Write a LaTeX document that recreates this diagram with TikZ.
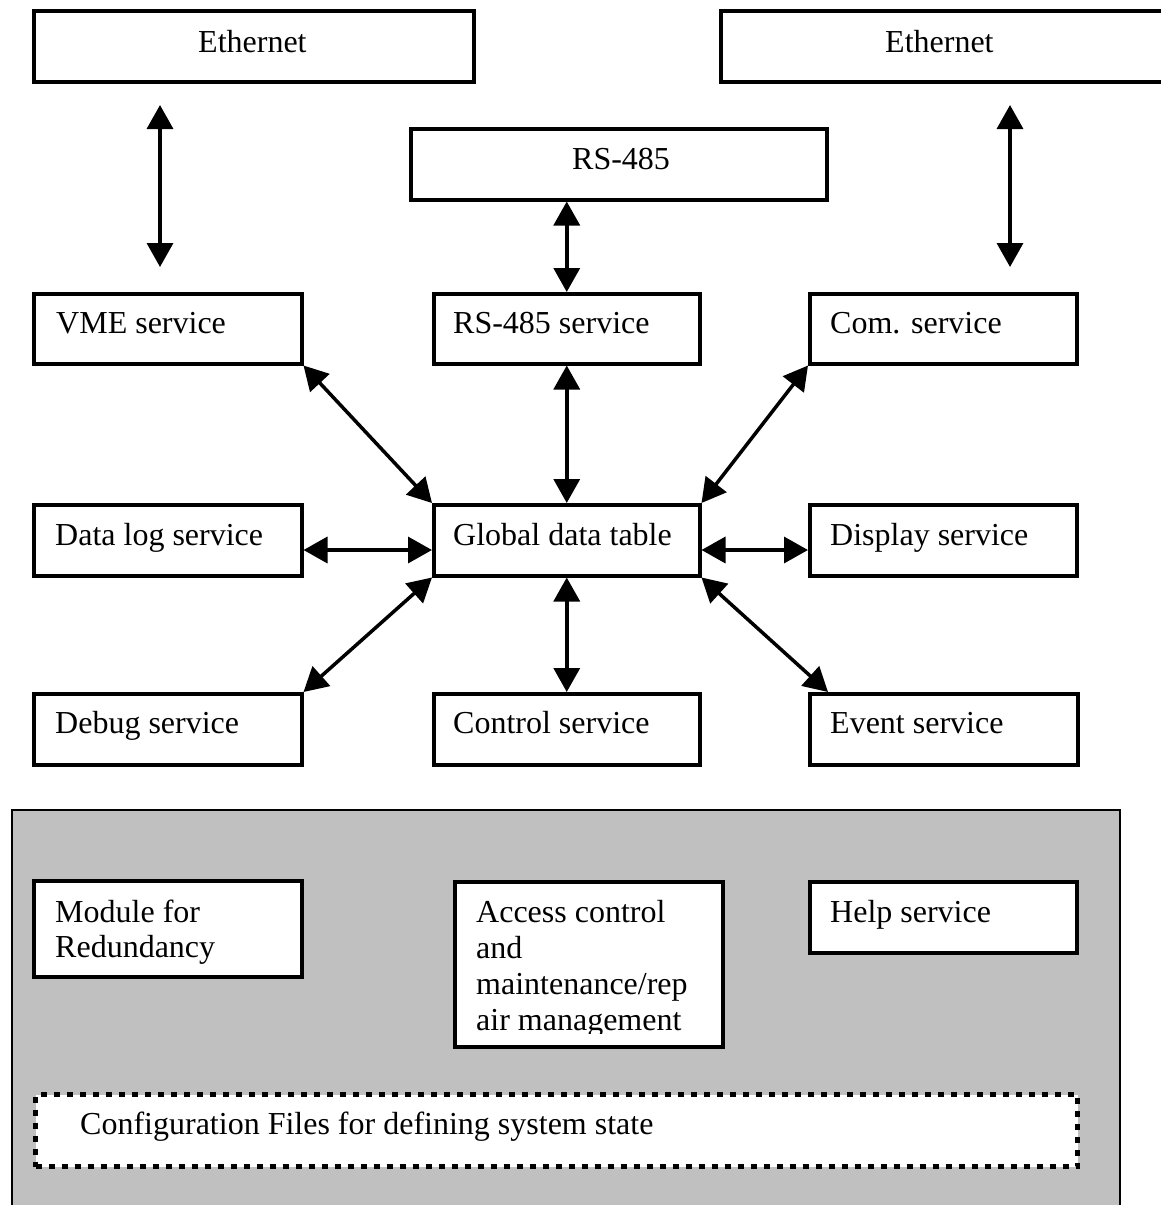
\documentclass[tikz,border=0pt]{standalone}
\usepackage{fontspec}
\setmainfont{Liberation Serif}
\usetikzlibrary{arrows.meta,calc}
\definecolor{panelgray}{RGB}{192,192,192}
\newcommand\dfont{\fontsize{32}{36}\selectfont}
\tikzset{
  box/.style={draw, line width=3.5pt, fill=white, rectangle, inner sep=0pt, anchor=north west},
  lbl/.style={anchor=base west, inner sep=0pt, font=\dfont},
  biarrow/.style={line width=3.5pt, {Triangle[length=24pt,width=26pt]}-{Triangle[length=24pt,width=26pt]}},
}
\begin{document}
\begin{tikzpicture}[x=1pt,y=-1pt]
\useasboundingbox (0,0) rectangle (1160,1205);
% gray panel
\node[draw, line width=1.5pt, fill=panelgray, rectangle, inner sep=0pt, anchor=north west,
      minimum width=1108pt, minimum height=420pt] (panel) at (11,809) {};
% top boxes
\node[box, minimum width=440pt, minimum height=71pt] (eth1) at (32,9) {};
\node[box, minimum width=446pt, minimum height=71pt] (eth2) at (719,9) {};
\node[box, minimum width=416pt, minimum height=71pt] (rs) at (409,127) {};
\node[lbl] (teth1) at (198,52) {Ethernet};
\node[lbl] (teth2) at (885,52) {Ethernet};
\node[lbl] (trs) at (572,169) {RS-485};
% service row 1
\node[box, minimum width=268pt, minimum height=70pt] (vme) at (32,292) {};
\node[box, minimum width=266pt, minimum height=70pt] (rss) at (432,292) {};
\node[box, minimum width=267pt, minimum height=70pt] (com) at (808,292) {};
\node[lbl] (tvme) at (56,333) {VME service};
\node[lbl] (trss) at (453,333) {RS-485 service};
\node[lbl] (tcom) at (830,333) {Com. service};
% row 2
\node[box, minimum width=268pt, minimum height=71pt] (dlog) at (32,503) {};
\node[box, minimum width=266pt, minimum height=71pt] (glob) at (432,503) {};
\node[box, minimum width=267pt, minimum height=71pt] (disp) at (808,503) {};
\node[lbl] (tdlog) at (55,545) {Data log service};
\node[lbl] (tglob) at (453,545) {Global data table};
\node[lbl] (tdisp) at (830,545) {Display service};
% row 3
\node[box, minimum width=268pt, minimum height=71pt] (dbg) at (32,692) {};
\node[box, minimum width=266pt, minimum height=71pt] (ctl) at (432,692) {};
\node[box, minimum width=268pt, minimum height=71pt] (evt) at (808,692) {};
\node[lbl] (tdbg) at (55,733) {Debug service};
\node[lbl] (tctl) at (453,733) {Control service};
\node[lbl] (tevt) at (830,733) {Event service};
% arrows
\coordinate (e1a) at (160,105);
\coordinate (e1b) at (160,267);
\coordinate (e2a) at (1010,105);
\coordinate (e2b) at (1010,267);
\coordinate (mid) at (0,550);
\draw[biarrow] (e1a) -- (e1b);
\draw[biarrow] (e2a) -- (e2b);
\draw[biarrow] (rss.north |- rs.south) -- (rss.north);
\draw[biarrow] (rss.south) -- (glob.north);
\draw[biarrow] (vme.south east) -- (glob.north west);
\draw[biarrow] (com.south west) -- (glob.north east);
\draw[biarrow] (dlog.east |- mid) -- (glob.west |- mid);
\draw[biarrow] (glob.east |- mid) -- (disp.west |- mid);
\draw[biarrow] (dbg.north east) -- (glob.south west);
\draw[biarrow] (glob.south) -- (ctl.north);
\draw[biarrow] (glob.south east) -- ($(evt.north west)+(20,0)$);
% panel content
\node[box, minimum width=268pt, minimum height=96pt] (mod) at (32,879) {};
\node[lbl] (tmod1) at (55,922) {Module for};
\node[lbl] (tmod2) at (55,957) {Redundancy};
\node[box, minimum width=268pt, minimum height=165pt] (acc) at (453,880) {};
\begin{scope}
\clip (453,880) rectangle (721,1033);
\node[lbl] (tacc1) at (476,922) {Access control};
\node[lbl] (tacc2) at (476,958) {and};
\node[lbl] (tacc3) at (476,994) {maintenance/rep};
\node[lbl] (tacc4) at (476,1030) {air management};
\end{scope}
\node[box, minimum width=267pt, minimum height=71pt] (help) at (808,880) {};
\node[lbl] (thelp) at (830,922) {Help service};
\node[draw, fill=white, line width=5pt, dash pattern=on 6pt off 7pt, rectangle, inner sep=0pt,
      anchor=north west, minimum width=1042pt, minimum height=72pt] (cfg) at (33,1092) {};
\node[lbl] (tcfg) at (80,1134) {Configuration Files for defining system state};
\end{tikzpicture}
\end{document}
